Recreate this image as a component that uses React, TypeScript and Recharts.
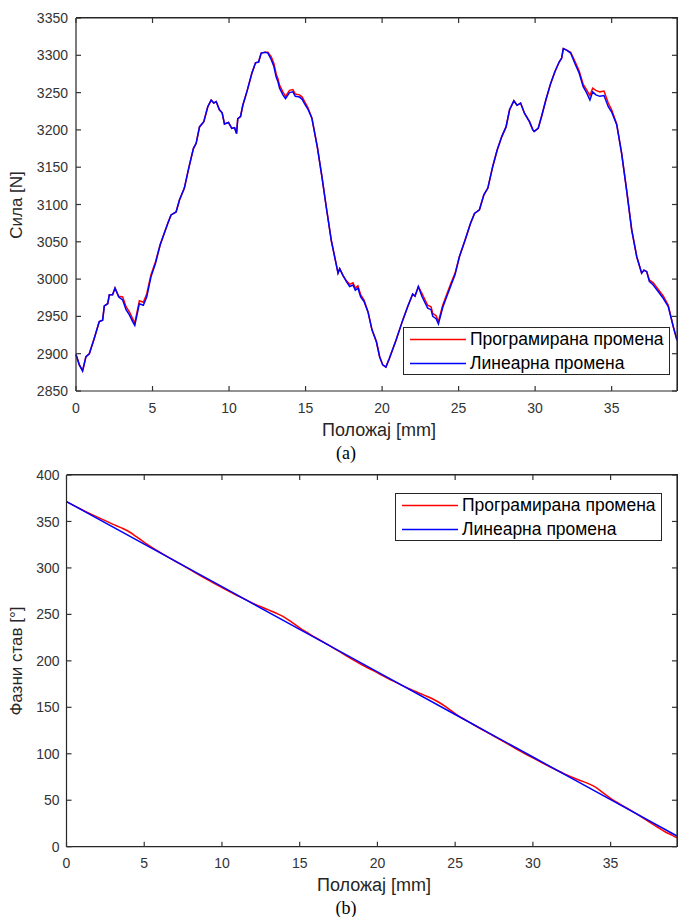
import { LineChart, Line, XAxis, YAxis } from 'recharts';

// (a) force vs position
const posA = [
  0, 0.22, 0.43, 0.65, 0.87, 1.2, 1.52, 1.74, 1.85, 2.07, 2.18, 2.39, 2.55, 2.79, 3.05, 3.27, 3.49, 3.7, 3.84,
  4.14, 4.4, 4.62, 4.9, 5.19, 5.5, 6.0, 6.21, 6.54, 6.76, 7.08, 7.37, 7.67, 7.85, 8.07, 8.35, 8.61, 8.83, 9.0,
  9.16, 9.37, 9.55, 9.7, 9.96, 10.18, 10.36, 10.49, 10.57, 10.75, 10.9, 11.19, 11.49, 11.73, 11.93, 12.1, 12.36,
  12.54, 12.76, 12.93, 13.08, 13.19, 13.3, 13.52, 13.69, 13.95, 14.17, 14.33, 14.61, 14.78, 14.94, 15.15, 15.41,
  15.77, 16.07, 16.35, 16.68, 16.94, 17.12, 17.23, 17.44, 17.66, 17.88, 18.1, 18.25, 18.42, 18.6, 18.82, 19.08,
  19.34, 19.63, 19.84, 20.04, 20.25, 20.48, 20.91, 21.35, 21.67, 22.0, 22.15, 22.37, 22.6, 22.98, 23.2, 23.31,
  23.53, 23.68, 23.96, 24.25, 24.51, 24.77, 25.05, 25.42, 25.78, 26.04, 26.36, 26.65, 26.91, 27.23, 27.52, 27.82,
  28.1, 28.33, 28.61, 28.82, 29.05, 29.31, 29.63, 29.85, 29.94, 30.2, 30.42, 30.7, 31.01, 31.29, 31.57, 31.73,
  31.84, 32.06, 32.32, 32.6, 32.88, 33.14, 33.36, 33.58, 33.76, 33.97, 34.23, 34.5, 34.78, 35.0, 35.33, 35.65,
  35.98, 36.31, 36.64, 36.96, 37.11, 37.29, 37.46, 37.72, 38.05, 38.38, 38.7, 39.03, 39.27,
];
const forceLinear = [
  2899, 2885, 2877, 2896, 2900, 2921, 2943, 2945, 2964, 2967, 2979, 2979, 2988, 2976, 2972, 2959, 2952, 2943, 2938,
  2967, 2965, 2976, 3003, 3021, 3046, 3075, 3086, 3090, 3106, 3122, 3149, 3175, 3182, 3204, 3211, 3231, 3240, 3236,
  3238, 3227, 3223, 3208, 3210, 3202, 3203, 3195, 3215, 3218, 3233, 3253, 3276, 3290, 3291, 3303, 3304,
  3303, 3294, 3285, 3271, 3265, 3256, 3247, 3242, 3250, 3251, 3245, 3244, 3241, 3235, 3228, 3216,
  3177, 3137, 3097, 3052, 3026, 3008, 3014, 3005, 2997, 2990, 2992, 2985, 2988, 2976, 2970, 2956,
  2932, 2916, 2896, 2885, 2882, 2894, 2918, 2945, 2963, 2980, 2977, 2990, 2977, 2961, 2959, 2950,
  2947, 2940, 2962, 2978, 2992, 3006, 3030, 3052, 3075, 3088, 3093, 3113, 3122, 3151, 3173, 3191,
  3204, 3227, 3239, 3233, 3236, 3222, 3211, 3200, 3198, 3202, 3218, 3240, 3262, 3278, 3291, 3296,
  3309, 3307, 3303, 3289, 3276, 3258, 3250, 3240, 3251, 3247, 3245, 3246, 3231, 3224, 3207, 3169,
  3119, 3066, 3030, 3008, 3012, 3010, 2997, 2992, 2983, 2974, 2963, 2936, 2918,
];
const forceProgrammed = [
  2899, 2885, 2877, 2896, 2900, 2921, 2943, 2945, 2964, 2967, 2979, 2979, 2988, 2977, 2976, 2963, 2956, 2947, 2941,
  2971, 2969, 2980, 3006, 3023, 3046, 3075, 3086, 3090, 3106, 3122, 3149, 3175, 3182, 3204, 3211, 3231, 3240, 3236,
  3238, 3227, 3223, 3208, 3210, 3202, 3203, 3195, 3215, 3218, 3233, 3253, 3276, 3290, 3291, 3303, 3304,
  3304, 3298, 3289, 3275, 3269, 3260, 3251, 3245, 3253, 3254, 3248, 3247, 3244, 3238, 3230, 3216,
  3177, 3137, 3097, 3052, 3026, 3008, 3014, 3005, 2998, 2993, 2995, 2988, 2991, 2979, 2972, 2956,
  2932, 2916, 2896, 2885, 2882, 2894, 2918, 2945, 2963, 2980, 2977, 2990, 2981, 2965, 2963, 2954,
  2951, 2943, 2965, 2981, 2995, 3008, 3030, 3052, 3075, 3088, 3093, 3113, 3122, 3151, 3173, 3191,
  3204, 3227, 3239, 3233, 3236, 3222, 3211, 3200, 3198, 3202, 3218, 3240, 3262, 3278, 3291, 3296,
  3309, 3307, 3304, 3292, 3279, 3261, 3254, 3246, 3256, 3253, 3251, 3252, 3236, 3227, 3208, 3169,
  3119, 3066, 3030, 3008, 3012, 3010, 2999, 2995, 2986, 2977, 2965, 2936, 2918,
];

// (b) phase vs position
const posBLinear = [0, 5, 10, 15, 20, 25, 30, 35, 39.27];
const phaseLinear = [371.4, 325.6, 279.8, 233.9, 188.1, 142.3, 96.5, 50.6, 11.5];
const posBProg = [
  0, 1, 2, 3, 3.5, 4, 4.5, 5, 6, 7, 8, 9, 10, 11, 12, 13, 13.5, 14, 14.5, 15, 16, 17, 18, 19, 20, 21, 22, 23,
  23.5, 24, 24.5, 25, 26, 27, 28, 29, 30, 31, 32, 33, 33.5, 34, 34.5, 35, 36, 37, 38, 38.5, 39, 39.27,
];
const phaseProgrammed = [
  371.4, 362.7, 354.6, 346.9, 343.3, 339.2, 333.6, 327.6, 316.9, 307.2, 297.6, 287.9, 278.8, 270.1, 261.9, 254.8,
  251.2, 247.1, 241.5, 235.4, 225.3, 215.6, 205.4, 195.8, 187.1, 178.4, 170.3, 163.1, 159.5, 154.9, 149.4, 143.3,
  133.1, 123.5, 114.3, 104.6, 95.5, 86.8, 78.6, 71.5, 68.4, 64.3, 58.2, 52.1, 42.0, 31.8, 21.2, 16.1, 12.0, 9.5,
];

const xTicks = [0, 5, 10, 15, 20, 25, 30, 35];
const forceTicks = [2850, 2900, 2950, 3000, 3050, 3100, 3150, 3200, 3250, 3300, 3350];
const phaseTicks = [0, 50, 100, 150, 200, 250, 300, 350, 400];
const seriesNames = ['Програмирана промена', 'Линеарна промена'];
const seriesColors = ['#ff0000', '#0000ff'];

const toRows = (xs: number[], ys: number[]) => xs.map((x, i) => ({ x, y: ys[i] }));
// built once, so Recharts sees stable references
const progA = toRows(posA, forceProgrammed);
const linA = toRows(posA, forceLinear);
const progB = toRows(posBProg, phaseProgrammed);
const linB = toRows(posBLinear, phaseLinear);
const xDomain = [0, 39.27];
const forceDomain = [2850, 3350];
const phaseDomain = [0, 400];

const FONT = "'Liberation Sans', Arial, sans-serif";
const AXIS = '#262626';
const TICK_LEN = 5;
const X_MARGIN_A = 12;
const Y_MARGIN_A = 8;
const X_MARGIN_B = 11;
const Y_MARGIN_B = 7;
const axisLineStyle = { stroke: AXIS, strokeWidth: 1.2 };

// inward (MATLAB style) ticks drawn together with their labels
const bottomTick = (margin: number) => (p: any) => (
  <g>
    <line x1={p.x} x2={p.x} y1={p.y - margin} y2={p.y - margin - TICK_LEN} stroke="#333333" strokeWidth={1.2} />
    <text x={p.x} y={p.y} dy="0.71em" textAnchor="middle" fill="#333" fontSize={14} fontFamily={FONT}>{p.payload.value}</text>
  </g>
);
const leftTick = (margin: number) => (p: any) => (
  <g>
    <line x1={p.x + margin} x2={p.x + margin + TICK_LEN} y1={p.y} y2={p.y} stroke="#333333" strokeWidth={1.2} />
    <text x={p.x} y={p.y} dy="0.36em" textAnchor="end" fill="#333" fontSize={14} fontFamily={FONT}>{p.payload.value}</text>
  </g>
);
const topTick = (p: any) => <line x1={p.x} x2={p.x} y1={p.y} y2={p.y + TICK_LEN} stroke="#333333" strokeWidth={1.2} />;
const rightTick = (p: any) => <line x1={p.x} x2={p.x - TICK_LEN} y1={p.y} y2={p.y} stroke="#333333" strokeWidth={1.2} />;
const bottomTickA = bottomTick(X_MARGIN_A);
const leftTickA = leftTick(Y_MARGIN_A);
const bottomTickB = bottomTick(X_MARGIN_B);
const leftTickB = leftTick(Y_MARGIN_B);

function LegendBox({ left, top }: { left: number; top: number }) {
  return (
    <div style={{ position: 'absolute', left, top, width: 265, height: 46, border: `1px solid ${AXIS}`, background: '#fff', fontFamily: FONT, fontSize: 17.5, color: '#000' }}>
      {seriesNames.map((name, i) => (
        <div key={name} style={{ position: 'absolute', left: 0, top: i === 0 ? 0 : 24, height: 23, width: '100%' }}>
          <svg width={62} height={23} style={{ position: 'absolute', left: 0, top: 0 }}>
            <line x1={6} x2={62} y1={11.5} y2={11.5} stroke={seriesColors[i]} strokeWidth={1.5} />
          </svg>
          <span style={{ position: 'absolute', left: 66, top: 1, lineHeight: '20px', whiteSpace: 'nowrap' }}>{name}</span>
        </div>
      ))}
    </div>
  );
}

// top and right edges of the axes box
function BoxEdges({ left, top, width, height }: { left: number; top: number; width: number; height: number }) {
  return (
    <div style={{ position: 'absolute', left, top, width, height, boxSizing: 'border-box', borderTop: `1px solid ${AXIS}`, borderRight: `1px solid ${AXIS}`, pointerEvents: 'none' }} />
  );
}

const text = (s: string, left: number, top: number, size: number, rotate = false, serif = false) => (
  <div
    style={{
      position: 'absolute', left, top, fontSize: size, lineHeight: `${size}px`, whiteSpace: 'nowrap', color: serif ? '#000' : '#262626',
      fontFamily: serif ? "'Liberation Serif', 'Times New Roman', serif" : FONT,
      transform: rotate ? 'translate(-50%, -50%) rotate(-90deg)' : 'translateX(-50%)',
    }}
  >
    {s}
  </div>
);

const chartMarginA = { top: 17, right: 0, left: 0, bottom: 0 };
const chartMarginB = { top: 14, right: 0, left: 0, bottom: 0 };

export default function App() {
  return (
    <div style={{ position: 'absolute', left: 0, top: 0, width: 678, height: 917, background: '#fff' }}>
      <LineChart width={678} height={460} margin={chartMarginA}>
        <XAxis xAxisId="b" dataKey="x" type="number" domain={xDomain} ticks={xTicks} height={69}
          tickSize={0} tickMargin={X_MARGIN_A} tick={bottomTickA} tickLine={false} axisLine={axisLineStyle} />
        <XAxis xAxisId="t" orientation="top" dataKey="x" type="number" domain={xDomain} ticks={xTicks} height={1}
          tickSize={0} tickMargin={0} tick={topTick} axisLine={axisLineStyle} />
        <YAxis yAxisId="l" dataKey="y" type="number" domain={forceDomain} ticks={forceTicks} width={76}
          tickSize={0} tickMargin={Y_MARGIN_A} tick={leftTickA} tickLine={false} axisLine={axisLineStyle} />
        <YAxis yAxisId="r" orientation="right" dataKey="y" type="number" domain={forceDomain} ticks={forceTicks} width={1}
          tickSize={0} tickMargin={0} tick={rightTick} axisLine={axisLineStyle} />
        <Line xAxisId="t" yAxisId="r" data={linA} dataKey="y" stroke="pink" strokeOpacity={0} dot={false} isAnimationActive={false} />
        <Line xAxisId="b" yAxisId="l" data={progA} dataKey="y" name={seriesNames[0]} type="linear" stroke={seriesColors[0]} strokeWidth={1.5} dot={false} isAnimationActive={false} />
        <Line xAxisId="b" yAxisId="l" data={linA} dataKey="y" name={seriesNames[1]} type="linear" stroke={seriesColors[1]} strokeWidth={1.5} dot={false} isAnimationActive={false} />
      </LineChart>
      <BoxEdges left={76} top={17} width={602} height={374} />
      <LegendBox left={403} top={327} />
      {text('Сила [N]', 16, 204.5, 17, true)}
      {text('Положај [mm]', 379, 420.5, 18)}
      {text('(a)', 346, 444, 18, false, true)}

      <div style={{ position: 'absolute', left: 0, top: 460 }}>
        <LineChart width={678} height={457} margin={chartMarginB}>
          <XAxis xAxisId="b" dataKey="x" type="number" domain={xDomain} ticks={xTicks} height={70.3}
            tickSize={0} tickMargin={X_MARGIN_B} tick={bottomTickB} tickLine={false} axisLine={axisLineStyle} />
          <XAxis xAxisId="t" orientation="top" dataKey="x" type="number" domain={xDomain} ticks={xTicks} height={1}
            tickSize={0} tickMargin={0} tick={topTick} axisLine={axisLineStyle} />
          <YAxis yAxisId="l" dataKey="y" type="number" domain={phaseDomain} ticks={phaseTicks} width={66.5}
            tickSize={0} tickMargin={Y_MARGIN_B} tick={leftTickB} tickLine={false} axisLine={axisLineStyle} />
          <YAxis yAxisId="r" orientation="right" dataKey="y" type="number" domain={phaseDomain} ticks={phaseTicks} width={1}
            tickSize={0} tickMargin={0} tick={rightTick} axisLine={axisLineStyle} />
          <Line xAxisId="t" yAxisId="r" data={linB} dataKey="y" stroke="pink" strokeOpacity={0} dot={false} isAnimationActive={false} />
          <Line xAxisId="b" yAxisId="l" data={progB} dataKey="y" name={seriesNames[0]} type="monotone" stroke={seriesColors[0]} strokeWidth={1.5} dot={false} isAnimationActive={false} />
          <Line xAxisId="b" yAxisId="l" data={linB} dataKey="y" name={seriesNames[1]} type="linear" stroke={seriesColors[1]} strokeWidth={1.5} dot={false} isAnimationActive={false} />
        </LineChart>
        <BoxEdges left={66.5} top={14} width={611.5} height={373} />
        <LegendBox left={395} top={32.7} />
      </div>
      {text('Фазни став [°]', 16, 660.8, 17, true)}
      {text('Положај [mm]', 374, 875.5, 18)}
      {text('(b)', 346, 899, 18, false, true)}
    </div>
  );
}
